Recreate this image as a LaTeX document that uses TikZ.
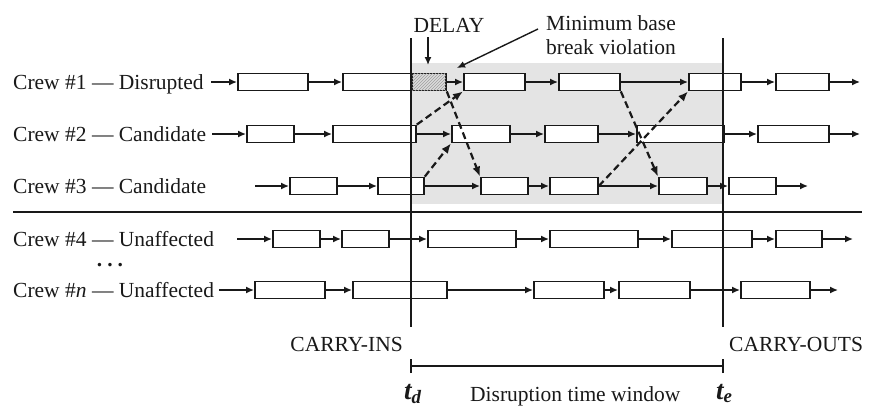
\documentclass[tikz,border=0pt]{standalone}
\usepackage{fontspec}
\setmainfont{Liberation Serif}
\usetikzlibrary{arrows.meta,patterns}
\definecolor{windowgray}{RGB}{228,228,228}
\definecolor{ink}{RGB}{25,25,25}
\newcommand\lblfont{\fontsize{21.5}{24}\selectfont}
\newcommand\tfont{\fontsize{27}{30}\selectfont}
\newcommand\bx[5][box]{\node[#1,anchor=west,minimum width={#4-#3}] (#2) at (#3,#5) {};}
\begin{document}
\begin{tikzpicture}[x=1pt,y=-1pt,
  box/.style={draw=ink,fill=white,line width=1.8pt,minimum height=17pt,inner sep=0pt},
  hatchbox/.style={box,fill=gray!28,postaction={pattern=north east lines,pattern color=gray!75}},
  conn/.style={draw=ink,line width=1.4pt,-{Latex[length=8pt,width=7pt]}},
  dasharr/.style={draw=ink,line width=2.2pt,dash pattern=on 7pt off 4pt,-{Latex[length=10pt,width=8pt]}},
  plain/.style={draw=ink,line width=1.7pt},
  txt/.style={inner sep=0pt,font=\lblfont,text=ink},
  ttxt/.style={inner sep=0pt,font=\tfont\bfseries\itshape,text=ink}]
\useasboundingbox (0,0) rectangle (872,407);
% shaded disruption area
\fill[windowgray] (411,63) rectangle (722,204);

% labels
\node[txt,anchor=base west] (l1) at (13,89) {Crew \#1 — Disrupted};
\node[txt,anchor=base west] (l2) at (13,141) {Crew \#2 — Candidate};
\node[txt,anchor=base west] (l3) at (13,193) {Crew \#3 — Candidate};
\node[txt,anchor=base west] (l4) at (13,246) {Crew \#4 — Unaffected};
\node[txt,anchor=base,font=\lblfont\bfseries] (ldots) at (110,266) {.\hspace{5pt}.\hspace{5pt}.};
\node[txt,anchor=base west] (ln) at (13,297) {Crew \#\textit{n} — Unaffected};

% separator
\coordinate (sepl) at (13,212);
\coordinate (sepr) at (862,212);
\draw[plain,line width=1.5pt] (sepl) -- (sepr);

% crew 1
\coordinate (s1) at (211,82); \coordinate (e1) at (860,82);
\bx{c1a}{237}{307}{82}
\bx{c1b}{342}{411}{82}
\bx[hatchbox]{c1h}{411}{445}{82}
\bx{c1c}{463}{524}{82}
\bx{c1d}{558}{619}{82}
\bx{c1e}{688}{740}{82}
\bx{c1f}{775}{828}{82}
% crew 2
\coordinate (s2) at (212,134); \coordinate (e2) at (860,134);
\bx{c2a}{246}{293}{134}
\bx{c2b}{332}{415}{134}
\bx{c2c}{451}{509}{134}
\bx{c2d}{544}{597}{134}
\bx{c2e}{636}{723}{134}
\bx{c2f}{757}{828}{134}
% crew 3
\coordinate (s3) at (255,186); \coordinate (e3) at (808,186);
\bx{c3a}{289}{336}{186}
\bx{c3b}{377}{423}{186}
\bx{c3c}{480}{527}{186}
\bx{c3d}{549}{597}{186}
\bx{c3e}{658}{706}{186}
\bx{c3f}{728}{775}{186}
% crew 4
\coordinate (s4) at (237,239); \coordinate (e4) at (853,239);
\bx{c4a}{272}{319}{239}
\bx{c4b}{341}{388}{239}
\bx{c4c}{427}{515}{239}
\bx{c4d}{549}{637}{239}
\bx{c4e}{671}{751}{239}
\bx{c4f}{775}{821}{239}
% crew n
\coordinate (sn) at (219,290); \coordinate (en) at (838,290);
\bx{cna}{254}{324}{290}
\bx{cnb}{352}{446}{290}
\bx{cnc}{533}{603}{290}
\bx{cnd}{618}{689}{290}
\bx{cne}{740}{809}{290}

% vertical time lines
\coordinate (tdtop) at (411,38); \coordinate (tdbot) at (411,327);
\coordinate (tetop) at (723,38); \coordinate (tebot) at (723,327);
\draw[plain] (tdtop) -- (tdbot);
\draw[plain] (tetop) -- (tebot);

% row connectors
\foreach \a/\b in {s1/c1a,c1a/c1b,c1h/c1c,c1c/c1d,c1d/c1e,c1e/c1f,c1f/e1,
  s2/c2a,c2a/c2b,c2b/c2c,c2c/c2d,c2d/c2e,c2e/c2f,c2f/e2,
  s3/c3a,c3a/c3b,c3b/c3c,c3c/c3d,c3d/c3e,c3e/c3f,c3f/e3,
  s4/c4a,c4a/c4b,c4b/c4c,c4c/c4d,c4d/c4e,c4e/c4f,c4f/e4,
  sn/cna,cna/cnb,cnb/cnc,cnc/cnd,cnd/cne,cne/en}
  \draw[conn] (\a) -- (\b);

% swap (dashed) connectors
\draw[dasharr] (c2b.north east) -- (c1c.south west);
\draw[dasharr] (c1h.south east) -- (c3c.north west);
\draw[dasharr] (c3b.north east) -- (c2c.south west);
\draw[dasharr] (c1d.south east) -- (c3e.north west);
\draw[dasharr] (c3d.east) -- (c1e.south west);

% annotations
\node[txt,anchor=base] (delay) at (449,32) {DELAY};
\coordinate (dtop) at (428,37); \coordinate (dbot) at (428,65);
\draw[conn] (dtop) -- (dbot);
\node[txt,anchor=base west] (mb1) at (546,30) {Minimum base};
\node[txt,anchor=base west] (mb2) at (546,54) {break violation};
\coordinate (mbs) at (538,29); \coordinate (mbe) at (457,68);
\draw[conn] (mbs) -- (mbe);

\node[txt,anchor=base east] (cin) at (403,351) {CARRY-INS};
\node[txt,anchor=base west] (cout) at (729,351) {CARRY-OUTS};

% time window
\coordinate (twl) at (411,366); \coordinate (twr) at (723,366);
\draw[plain,line width=1.5pt] (twl) -- (twr);
\draw[plain,line width=1.5pt] ([yshift=-7]twl) -- ([yshift=7]twl);
\draw[plain,line width=1.5pt] ([yshift=-7]twr) -- ([yshift=7]twr);
\node[ttxt,anchor=base west] (td) at (404,399) {t\textsubscript{d}};
\node[txt,anchor=base west] (dtw) at (470,401) {Disruption time window};
\node[ttxt,anchor=base west] (te) at (716,399) {t\textsubscript{e}};
\end{tikzpicture}
\end{document}
